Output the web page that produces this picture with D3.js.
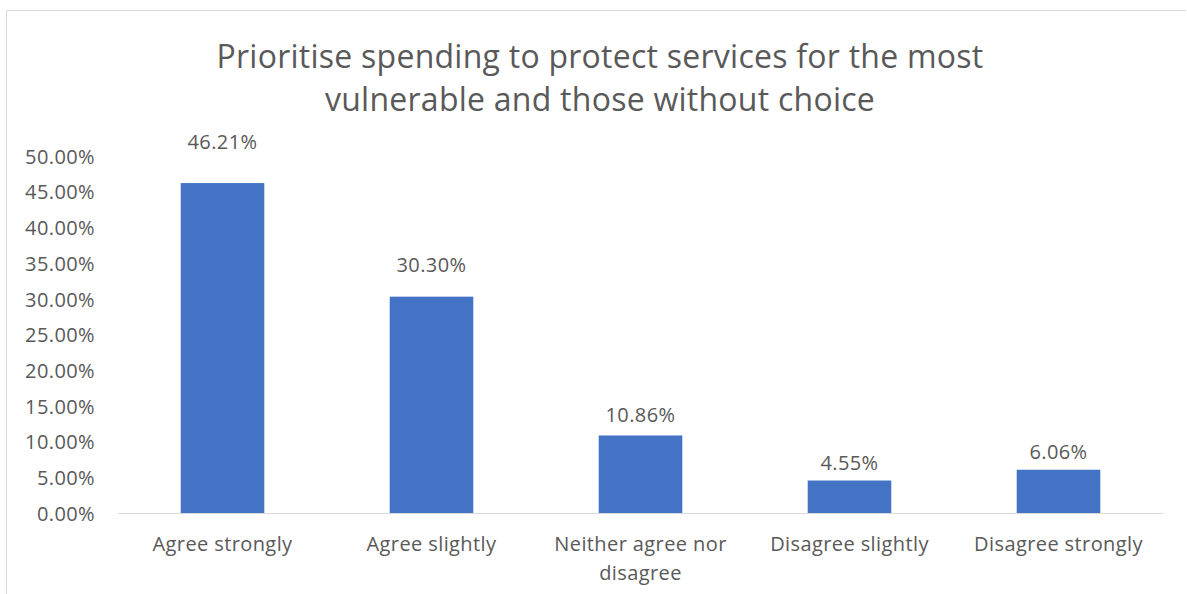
<!DOCTYPE html>
<html>
<head>
<meta charset="utf-8">
<script src="https://cdn.jsdelivr.net/npm/d3@7"></script>
<style>
  html, body { margin: 0; padding: 0; background: #fff; }
  svg { display: block; }
  text { font-family: "Open Sans", sans-serif; fill: #595959; }
</style>
</head>
<body>
<svg id="chart" width="1187" height="594"></svg>
<script>
// Survey responses
const categories = [
  ["Agree strongly"],
  ["Agree slightly"],
  ["Neither agree nor", "disagree"],
  ["Disagree slightly"],
  ["Disagree strongly"]
];
const values = [46.21, 30.30, 10.86, 4.55, 6.06];
const yTicks = [0, 5, 10, 15, 20, 25, 30, 35, 40, 45, 50];
const titleLines = [
  "Prioritise spending to protect services for the most",
  "vulnerable and those without choice"
];

const svg = d3.select("#chart");
const W = 1187, H = 594;
const FONT = "'Open Sans', sans-serif";
const LABEL_SIZE = "20px", LABEL_SPACING = "0.4px";

// chart frame
svg.append("line").attr("x1", 6.5).attr("x2", 1186).attr("y1", 10.5).attr("y2", 10.5)
  .attr("stroke", "#d9d9d9").attr("stroke-width", 1);
svg.append("line").attr("x1", 6.5).attr("x2", 6.5).attr("y1", 10.5).attr("y2", H)
  .attr("stroke", "#d9d9d9").attr("stroke-width", 1);

const plot = { left: 118, right: 1163, top: 156, bottom: 513 };

const x = d3.scaleBand()
  .domain(d3.range(categories.length))
  .range([plot.left, plot.right])
  .paddingInner(0.6)
  .paddingOuter(0.3);

const y = d3.scaleLinear().domain([0, 50]).range([plot.bottom, plot.top]);
// vertical placement of the value labels above the bars
const labelY = d3.scaleLinear().domain([0, 50]).range([498, 113]);

// title
svg.append("text")
  .attr("text-anchor", "middle")
  .style("font-size", "32px")
  .style("letter-spacing", "0.25px")
  .selectAll("tspan").data(titleLines).join("tspan")
  .attr("x", 600).attr("y", (d, i) => 68 + i * 43)
  .text(d => d);

// y axis labels
const yAxis = d3.axisLeft(y).tickValues(yTicks).tickSize(0).tickPadding(0)
  .tickFormat(d => d.toFixed(2) + "%");
const gy = svg.append("g").attr("transform", `translate(95,0)`).call(yAxis);
gy.select(".domain").remove();
gy.selectAll("text").style("font-size", LABEL_SIZE).style("letter-spacing", LABEL_SPACING)
  .attr("dy", "0.36em").style("font-family", FONT).attr("fill", "#595959");

// bars
svg.append("g").selectAll("rect").data(values).join("rect")
  .attr("x", (d, i) => x(i))
  .attr("width", x.bandwidth())
  .attr("y", d => y(d))
  .attr("height", d => y(0) - y(d))
  .attr("fill", "#4472C4");

// baseline
svg.append("line")
  .attr("x1", plot.left).attr("x2", plot.right)
  .attr("y1", y(0) + 0.5).attr("y2", y(0) + 0.5)
  .attr("stroke", "#d9d9d9").attr("stroke-width", 1);

// data labels
svg.append("g").selectAll("text").data(values).join("text")
  .attr("x", (d, i) => x(i) + x.bandwidth() / 2)
  .attr("y", d => labelY(d))
  .attr("dy", "0.36em")
  .attr("text-anchor", "middle")
  .style("font-size", LABEL_SIZE).style("letter-spacing", LABEL_SPACING)
  .text(d => d.toFixed(2) + "%");

// category labels
const gx = svg.append("g").selectAll("text").data(categories).join("text")
  .attr("text-anchor", "middle")
  .style("font-size", LABEL_SIZE).style("letter-spacing", LABEL_SPACING);
gx.selectAll("tspan").data((d, i) => d.map(s => ({ s, i }))).join("tspan")
  .attr("x", d => x(d.i) + x.bandwidth() / 2)
  .attr("y", (d, j) => 551 + j * 29)
  .text(d => d.s);
</script>
</body>
</html>
